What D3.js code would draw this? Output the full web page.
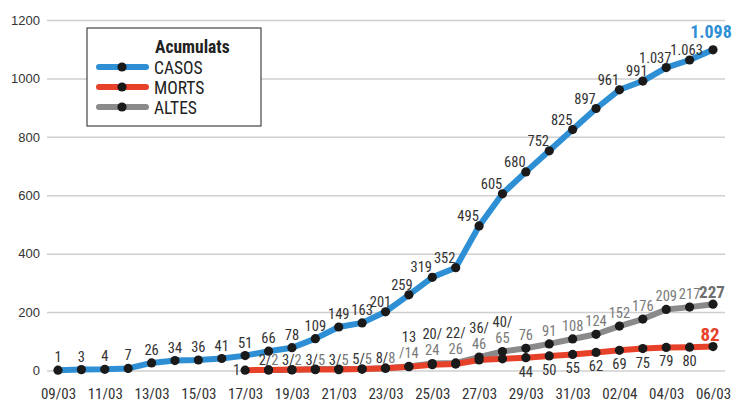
<!DOCTYPE html>
<html><head><meta charset="utf-8">
<script src="https://cdn.jsdelivr.net/npm/d3@7"></script>
<style>
body{margin:0;background:#fff;}
svg{display:block;}
text{font-family:"Liberation Sans Narrow","Roboto Condensed","Liberation Sans",sans-serif;}
</style></head><body>
<svg id="c" width="732" height="404"></svg>
<script>
const dates = ["09/03","10/03","11/03","12/03","13/03","14/03","15/03","16/03","17/03","18/03","19/03","20/03","21/03","22/03","23/03","24/03","25/03","26/03","27/03","28/03","29/03","30/03","31/03","01/04","02/04","03/04","04/04","05/04","06/04"];
const tickLabels = ["09/03","11/03","13/03","15/03","17/03","19/03","21/03","23/03","25/03","27/03","29/03","31/03","02/04","04/03","06/03"];
const casos = [1,3,4,7,26,34,36,41,51,66,78,109,149,163,201,259,319,352,495,605,680,752,825,897,961,991,1037,1063,1098];
const morts = [null,null,null,null,null,null,null,null,1,2,3,3,3,5,8,13,20,22,36,40,44,50,55,62,69,75,79,80,82];
const altes = [null,null,null,null,null,null,null,null,null,2,2,5,5,5,8,14,24,26,46,65,76,91,108,124,152,176,209,217,227];
const yTicks = [0,200,400,600,800,1000,1200];
const seriesNames = ["CASOS","MORTS","ALTES"];
const colors = {CASOS:"#2e8fd4", MORTS:"#e8412a", ALTES:"#8a8a8b"};

const svg = d3.select("#c");
const x = d3.scalePoint().domain(dates).range([58,713]);
const y = d3.scaleLinear().domain([0,1200]).range([370.5,20]);
const fmt = d3.formatLocale({decimal:",",thousands:".",grouping:[3],currency:["","€"]}).format(",d");

// grid + y axis
const ya = svg.append("g").attr("transform","translate(47,0)")
  .call(d3.axisLeft(y).tickValues(yTicks).tickSize(-(725-47)).tickPadding(7).tickFormat(d=>d));
ya.select(".domain").remove();
ya.selectAll("line").attr("stroke","#cfcfcf").attr("stroke-width",1.5);
ya.selectAll("text").attr("font-size",13).attr("fill","#333").style("font-family","'Liberation Sans','Liberation Sans Narrow',sans-serif");

// x axis
const tickDates = dates.filter((d,i)=>i%2===0);
const xa = svg.append("g").attr("transform","translate(0,388)")
  .call(d3.axisBottom(x).tickValues(tickDates).tickSize(0).tickPadding(0).tickFormat((d,i)=>tickLabels[i]));
xa.select(".domain").remove();
xa.selectAll("text").attr("font-size",15).attr("fill","#333").attr("dy","0.71em");

// lines
const line = d3.line().defined(d=>d.v!=null).x(d=>x(d.d)).y(d=>y(d.v));
const mk = arr => dates.map((d,i)=>({d, v:arr[i], i}));
const data = {CASOS:mk(casos), MORTS:mk(morts), ALTES:mk(altes)};
["ALTES","MORTS","CASOS"].forEach(k=>{
  svg.append("path").datum(data[k]).attr("d",line).attr("fill","none")
    .attr("stroke",colors[k]).attr("stroke-width",6).attr("stroke-linejoin","round").attr("stroke-linecap","round");
});
["ALTES","MORTS","CASOS"].forEach(k=>{
  svg.append("g").selectAll("circle").data(data[k].filter(d=>d.v!=null)).join("circle")
    .attr("cx",d=>x(d.d)).attr("cy",d=>y(d.v)).attr("r",4.6).attr("fill","#1a1a1a");
});

// labels
const lab = svg.append("g").attr("font-size",14.5);
const last = dates.length-1;
function casosDx(i){
  if(i===last) return -2;
  if(i===last-1) return -3;
  if(i===last-3) return -6;
  if(i<14) return 0;
  if(i===14) return -5;
  if(i===15) return -7;
  return -11;
}
data.CASOS.forEach(d=>{
  const isLast = d.i===last;
  const dy = isLast ? -12 : (d.i>=14 ? -5 : -8);
  lab.append("text").attr("x",x(d.d)+casosDx(d.i)).attr("y",y(d.v)+dy).attr("text-anchor","middle")
    .attr("fill",isLast?colors.CASOS:"#333").attr("font-weight",isLast?"bold":null)
    .attr("font-size",isLast?18:14.5).text(fmt(d.v));
});
dates.forEach((dd,i)=>{
  const m = morts[i], a = altes[i];
  if(m==null) return;
  const cx = x(dd);
  if(a==null){
    lab.append("text").attr("x",cx-5).attr("y",y(m)+5).attr("text-anchor","end").attr("fill","#333").text(m);
  } else if(i<=14){
    const t = lab.append("text").attr("x",cx).attr("y",y(m)-5).attr("text-anchor","middle");
    t.append("tspan").attr("fill","#333").text(m+"/");
    t.append("tspan").attr("fill","#7a7a7a").text(a);
  } else if(i<=19){
    const b = y(a)-8.5;
    if(i===15){
      lab.append("text").attr("x",cx).attr("y",b-16).attr("text-anchor","middle").attr("fill","#333").text(m);
      lab.append("text").attr("x",cx).attr("y",b).attr("text-anchor","middle").attr("fill","#7a7a7a").text("/"+a);
    } else {
      lab.append("text").attr("x",cx).attr("y",b-16).attr("text-anchor","middle").attr("fill","#333").text(m+"/");
      lab.append("text").attr("x",cx).attr("y",b).attr("text-anchor","middle").attr("fill","#7a7a7a").text(a);
    }
  } else if(i<last){
    lab.append("text").attr("x",cx).attr("y",y(a)-8).attr("text-anchor","middle").attr("fill","#7a7a7a").text(a);
    lab.append("text").attr("x",cx).attr("y",y(m)+19).attr("text-anchor","middle").attr("fill","#333").text(m);
  } else {
    lab.append("text").attr("x",cx-1).attr("y",y(a)-6).attr("text-anchor","middle").attr("fill","#6e6e6e")
      .attr("font-weight","bold").attr("font-size",17).text(a);
    lab.append("text").attr("x",cx-3).attr("y",y(m)-6).attr("text-anchor","middle").attr("fill",colors.MORTS)
      .attr("font-weight","bold").attr("font-size",19).text(m);
  }
});

// legend
const lg = svg.append("g");
lg.append("rect").attr("x",87).attr("y",28).attr("width",174).attr("height",98)
  .attr("fill","#fff").attr("stroke","#444").attr("stroke-width",1.2);
lg.append("text").attr("x",155).attr("y",53).attr("font-size",17.5).attr("font-weight","bold").attr("fill","#222").text("Acumulats");
seriesNames.forEach((k,i)=>{
  const yy = 67 + i*20;
  lg.append("line").attr("x1",99).attr("x2",146).attr("y1",yy).attr("y2",yy)
    .attr("stroke",colors[k]).attr("stroke-width",6).attr("stroke-linecap","round");
  lg.append("circle").attr("cx",122).attr("cy",yy).attr("r",4.6).attr("fill","#1a1a1a");
  lg.append("text").attr("x",154).attr("y",yy+6.5).attr("font-size",17.5).attr("fill","#222").text(k);
});
</script></body></html>
